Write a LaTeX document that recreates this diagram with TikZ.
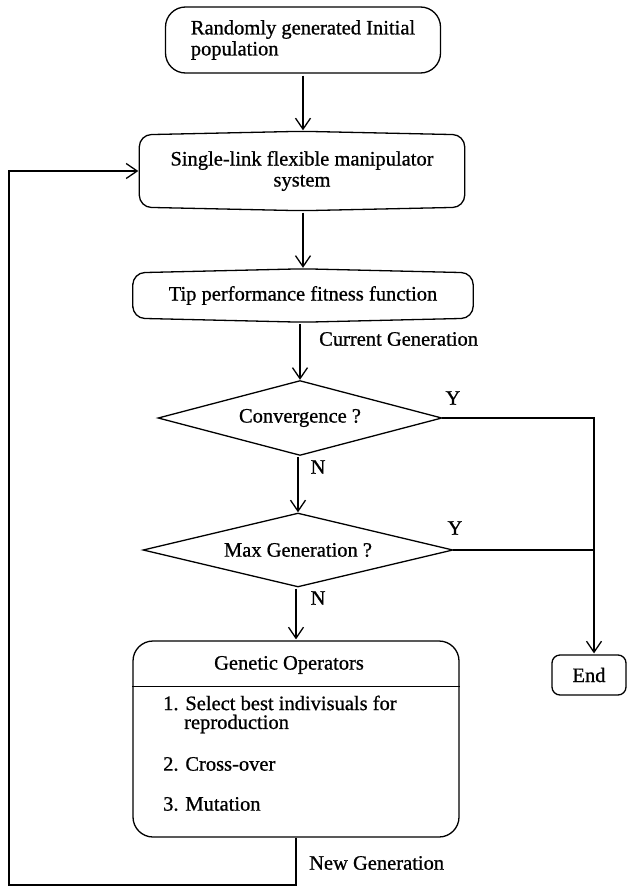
\documentclass[tikz,border=0pt]{standalone}
\usepackage{fontspec}
\setmainfont{Liberation Serif}[FakeBold=0.8]
\usetikzlibrary{arrows.meta,calc}

% outline of a box whose top and bottom edges bow slightly outwards
\newcommand\bowedoutline[2]{%
  \draw[line, rounded corners=12pt] (#1.west) -- (#1.north west)
    -- ([yshift=#2]#1.north) -- (#1.north east) -- (#1.south east)
    -- ([yshift=-#2]#1.south) -- (#1.south west) -- cycle;}
% diamond through the edge midpoints of a rectangular node
\newcommand\diamondoutline[1]{%
  \draw[line] (#1.north) -- (#1.east) -- (#1.south) -- (#1.west) -- cycle;}

\begin{document}
\begin{tikzpicture}[x=1pt,y=-1pt,
  every node/.style={font=\fontsize{20.5}{21}\selectfont, inner sep=0pt},
  line/.style={line width=1.3pt},
  flow/.style={line, -{Straight Barb[length=11pt,width=15pt,line width=1.3pt]},
    shorten <=2pt, shorten >=1pt},
  startbox/.style={draw, line, rounded corners=20pt, minimum width=275pt,
    minimum height=66pt, align=left},
  procbox/.style={align=center},
  label/.style={anchor=west}]

\fill[white] (0,0) rectangle (630,886);
\useasboundingbox (0,0) rectangle (630,886);

% main column
\node[startbox] (init) at (303,40) {Randomly generated Initial\\population};
\node[procbox, minimum width=325pt, minimum height=72pt] (plant) at (302,171)
  {Single-link flexible manipulator\\system};
\bowedoutline{plant}{3.5pt}
\node[procbox, minimum width=340pt, minimum height=45pt] (fit) at (303,295.5)
  {Tip performance fitness function};
\bowedoutline{fit}{4pt}

\node[minimum width=283pt, minimum height=74pt] (conv) at (300,418)
  {Convergence ?};
\diamondoutline{conv}
\node[minimum width=309pt, minimum height=73pt] (maxg) at (298,550)
  {Max Generation ?};
\diamondoutline{maxg}

% genetic operators box with header
\node[draw, line, rounded corners=20pt, minimum width=326pt, minimum height=196pt]
  (ga) at (296,739) {};
\path (ga.north) ++(0,46) coordinate (gasep);
\draw[line] (gasep -| ga.west) -- (gasep -| ga.east);
\node (gahead) at (289,665) {Genetic Operators};
\node[label] (op1) at (163,703) {1. Select best indivisuals for};
\node[label] (op1b) at (184,724) {reproduction};
\node[label] (op2) at (163,764) {2. Cross-over};
\node[label] (op3) at (163,804) {3. Mutation};

% end terminal
\node[draw, line, rounded corners=8pt, minimum width=74pt, minimum height=40pt]
  (end) at (589,675) {End};

% connectors
\draw[flow] (init.south) -- ([yshift=3.5pt]init.south |- plant.north);
\draw[flow] ([yshift=-3.5pt]plant.south -| fit.north) -- ([yshift=4pt]fit.north);
\draw[flow] ([yshift=-4pt]fit.south -| conv.north) -- (conv.north);
\draw[flow] (conv.south -| maxg.north) -- (maxg.north);
\draw[flow] (maxg.south -| ga.north) -- (ga.north);

\coordinate (ycol) at (594,418);
\draw[flow, shorten <=0pt] (conv.east) -- (conv.east -| ycol) -- (ycol |- end.north);
\draw[line] (maxg.east) -- (maxg.east -| ycol);

\coordinate (fbl) at (9,885);
\draw[flow, shorten <=0pt] (ga.south) -- (ga.south |- fbl) -- (fbl)
  -- (fbl |- plant.west) -- (plant.west);

% labels
\node[label] (curgen) at (319,339) {Current Generation};
\node[label] (newgen) at (309,863) {New Generation};
\node (y1) at (453,398) {Y};
\node (y2) at (455,528) {Y};
\node (n1) at (318,467) {N};
\node (n2) at (318,598) {N};
\end{tikzpicture}
\end{document}
